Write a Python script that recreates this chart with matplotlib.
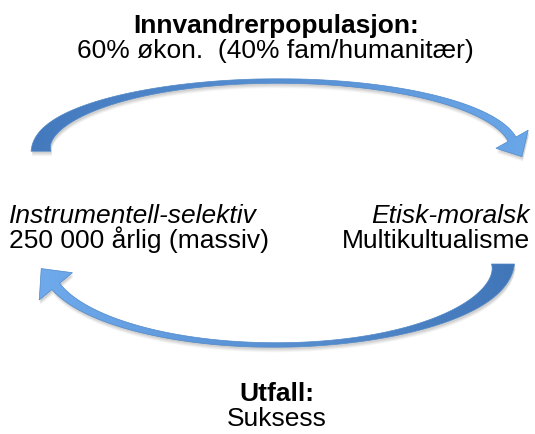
import matplotlib.pyplot as plt
import numpy as np
from matplotlib.patches import Polygon
from matplotlib.colors import LinearSegmentedColormap

plt.rcParams['font.family'] = ['Liberation Sans', 'DejaVu Sans']

# labels
top_title = "Innvandrerpopulasjon:"
top_sub = "60% økon.  (40% fam/humanitær)"
left_title = "Instrumentell-selektiv"
left_sub = "250 000 årlig (massiv)"
right_title = "Etisk-moralsk"
right_sub = "Multikultualisme"
bottom_title = "Utfall:"
bottom_sub = "Suksess"

# arc arrows: centre x, centre y, half-width, half-height, start/end angle (deg),
# shaft width at start / middle / end, head width, head length
top_arrow = dict(cx=278, cy=151, a=237, b=69, t0=181, t1=9,
                 w0=20, wm=4.5, w1=9, hw=37, hl=20, sign=1,
                 c0='#4479bd', c1='#6aa7e9')
bottom_arrow = dict(cx=275, cy=265, a=228, b=81, t0=0, t1=164,
                    w0=23, wm=4.5, w1=10, hw=43, hl=23, sign=-1,
                    c0='#4176b8', c1='#6eaaec')


def arrow_outline(p):
    th = np.radians(np.linspace(p['t0'], p['t1'], 300))
    x = p['cx'] + p['a'] * np.cos(th)
    y = p['cy'] - p['sign'] * p['b'] * np.sin(th)
    # width tapers toward the middle of the arc
    s = np.linspace(0, 1, len(th))
    w = np.where(s < 0.5,
                 p['wm'] + (p['w0'] - p['wm']) * (1 - 2 * s) ** 2.2,
                 p['wm'] + (p['w1'] - p['wm']) * (2 * s - 1) ** 2)
    dx = np.gradient(x)
    dy = np.gradient(y)
    n = np.hypot(dx, dy)
    tx, ty = dx / n, dy / n
    nx, ny = -ty, tx
    xa, ya = x + nx * w / 2, y + ny * w / 2
    xb, yb = x - nx * w / 2, y - ny * w / 2
    # flat tail end
    ya[0] = yb[0] = y[0]
    # arrow head
    hx, hy = x[-1], y[-1]
    head = [(hx + nx[-1] * p['hw'] / 2, hy + ny[-1] * p['hw'] / 2),
            (hx + tx[-1] * p['hl'], hy + ty[-1] * p['hl']),
            (hx - nx[-1] * p['hw'] / 2, hy - ny[-1] * p['hw'] / 2)]
    pts = list(zip(xa, ya)) + head + list(zip(xb[::-1], yb[::-1]))
    return np.array(pts)


fig = plt.figure(figsize=(5.35, 4.35), dpi=100)
ax = fig.add_axes([0, 0, 1, 1])
ax.axis('off')

for p in (top_arrow, bottom_arrow):
    pts = arrow_outline(p)
    # soft shadow
    for k, al in ((5, 0.05), (4, 0.07), (3, 0.08), (2, 0.10)):
        ax.add_patch(Polygon(pts + [1, k], closed=True, fc='#555555',
                             ec='none', alpha=al, zorder=1))
    poly = Polygon(pts, closed=True, fc='none', ec='none', zorder=2)
    ax.add_patch(poly)
    grad = np.linspace(0, 1, 256).reshape(1, -1)
    if p['sign'] == -1:
        grad = grad[:, ::-1]
    cm = LinearSegmentedColormap.from_list('g', [p['c0'], p['c1']])
    im = ax.imshow(grad, cmap=cm, aspect='auto', zorder=3,
                   extent=(pts[:, 0].min(), pts[:, 0].max(),
                           pts[:, 1].max(), pts[:, 1].min()))
    im.set_clip_path(poly)
    ax.add_patch(Polygon(pts, closed=True, fc='none', ec='#5088c8',
                         lw=0.5, zorder=4))

ax.set_xlim(0, 535)
ax.set_ylim(435, 0)

fs = 19
ax.text(276, 33, top_title, fontsize=fs, fontweight='bold', ha='center', va='baseline')
ax.text(275, 58, top_sub, fontsize=fs, ha='center', va='baseline')
ax.text(9, 223, left_title, fontsize=fs, style='italic', ha='left', va='baseline')
ax.text(9, 248, left_sub, fontsize=fs, ha='left', va='baseline')
ax.text(530, 223, right_title, fontsize=fs, style='italic', ha='right', va='baseline')
ax.text(530, 248, right_sub, fontsize=fs, ha='right', va='baseline')
ax.text(277, 401, bottom_title, fontsize=fs, fontweight='bold', ha='center', va='baseline')
ax.text(277, 426, bottom_sub, fontsize=fs, ha='center', va='baseline')

fig.savefig('out.png', dpi=100)
